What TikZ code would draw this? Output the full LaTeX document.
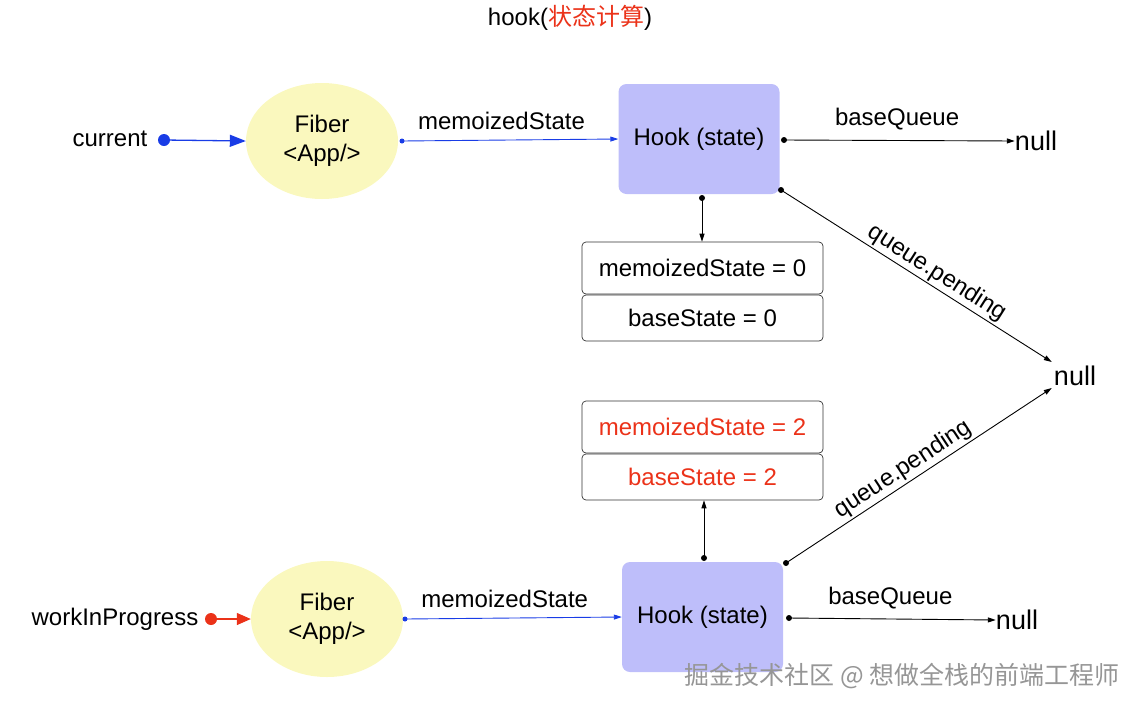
\documentclass[tikz,border=0pt]{standalone}
\usepackage{fontspec}
\setmainfont{Liberation Sans}
\newfontfamily\cjk{Noto Sans CJK SC}
\usetikzlibrary{shapes.geometric,arrows.meta,calc}
\definecolor{cblue}{RGB}{25,60,230}
\definecolor{cred}{RGB}{235,50,25}
\definecolor{fiberfill}{RGB}{250,248,190}
\definecolor{hookfill}{RGB}{190,190,250}
\definecolor{wm}{RGB}{150,150,150}
\begin{document}
\begin{tikzpicture}[x=1pt,y=-1pt,
  txt/.style={font=\fontsize{24}{28}\selectfont, inner sep=0pt},
  nulltxt/.style={font=\fontsize{27}{30}\selectfont, inner sep=0pt},
  fiber/.style={ellipse, fill=fiberfill, minimum width=152pt, minimum height=116pt, inner sep=0pt, align=center, font=\fontsize{24}{29}\selectfont},
  hook/.style={rectangle, rounded corners=8pt, fill=hookfill, minimum width=161pt, minimum height=110pt, inner sep=0pt, font=\fontsize{24}{28}\selectfont},
  statebox/.style={rectangle, rounded corners=4pt, draw=black!80, line width=0.7pt, minimum width=241pt, inner sep=0pt, font=\fontsize{24}{28}\selectfont},
  bigblue/.style={cblue, line width=1.3pt, -{Triangle[length=16pt,width=12pt]}},
  bigred/.style={cred, line width=1.3pt, -{Triangle[length=14pt,width=12pt]}},
  blueln/.style={cblue, line width=0.9pt, -{Triangle[length=8pt,width=5pt]}},
  blackln/.style={black, line width=0.9pt, -{Triangle[length=8pt,width=5pt]}},
  dot/.style={circle, fill, inner sep=0pt, minimum size=#1},
]
\useasboundingbox (0,0) rectangle (1140,710);

% title
\node[txt] (title) at (570,18) {hook(\textcolor{cred}{\cjk 状态计算})};

% top row
\node[txt] (cur) at (110,139) {current};
\node[dot=12pt, fill=cblue] (curdot) at (164,140) {};
\node[fiber] (f1) at (322,141) {Fiber\\<App/>};
\draw[bigblue] (curdot.center) -- (f1.west);

\node[hook] (h1) at (699,139) {Hook (state)};
\node[dot=5pt, fill=cblue] (m1dot) at (402,141) {};
\draw[blueln] (m1dot.center) -- node[txt, above=10pt, pos=0.46, black]{memoizedState} (h1.west);

\node[nulltxt] (n1) at (1036,141) {null};
\node[dot=6pt] (bq1dot) at (784,140) {};
\draw[blackln] (bq1dot.center) -- node[txt, above=10pt, pos=0.49]{baseQueue} (n1.west);

\node[statebox, minimum height=52pt] (ms0) at (702.5,268) {memoizedState = 0};
\node[statebox, minimum height=46pt] (bs0) at (702.5,318) {baseState = 0};
\node[dot=6pt] (d1dot) at (702,198) {};
\draw[blackln] (d1dot.center) -- (ms0.north -| d1dot);

% middle null
\node[nulltxt] (nm) at (1075,376) {null};
\node[dot=6pt] (qp1dot) at (781,190) {};
\draw[blackln] (qp1dot.center) -- node[txt, sloped, above=2pt, pos=0.55]{queue.pending} ($(nm.west)+(-2,-14)$);

% bottom state boxes
\node[statebox, minimum height=52pt, text=cred] (ms2) at (702.5,427) {memoizedState = 2};
\node[statebox, minimum height=46pt, text=cred] (bs2) at (702.5,477) {baseState = 2};

% bottom row
\node[txt] (wip) at (115,619) {workInProgress};
\node[dot=12pt, fill=cred] (wipdot) at (211,619) {};
\node[fiber] (f2) at (327,619) {Fiber\\<App/>};
\draw[bigred] (wipdot.center) -- (f2.west);

\node[hook] (h2) at (702.5,617) {Hook (state)};
\node[dot=5pt, fill=cblue] (m2dot) at (405,619) {};
\draw[blueln] (m2dot.center) -- node[txt, above=10pt, pos=0.46, black]{memoizedState} (h2.west);

\node[nulltxt] (n2) at (1017,620) {null};
\node[dot=6pt] (bq2dot) at (789,618) {};
\draw[blackln] (bq2dot.center) -- node[txt, above=10pt, pos=0.49]{baseQueue} (n2.west);

\node[dot=6pt] (u2dot) at (704,558) {};
\draw[blackln] (u2dot.center) -- (bs2.south -| u2dot);

\node[dot=6pt] (qp2dot) at (786,563) {};
\draw[blackln] (qp2dot.center) -- node[txt, sloped, above=2pt, pos=0.47]{queue.pending} ($(nm.west)+(-2,12)$);

% watermark
\node[font=\cjk\fontsize{25}{28}\selectfont, text=wm, inner sep=0pt] (wmk) at (902,676) {掘金技术社区 @ 想做全栈的前端工程师};
\end{tikzpicture}
\end{document}
